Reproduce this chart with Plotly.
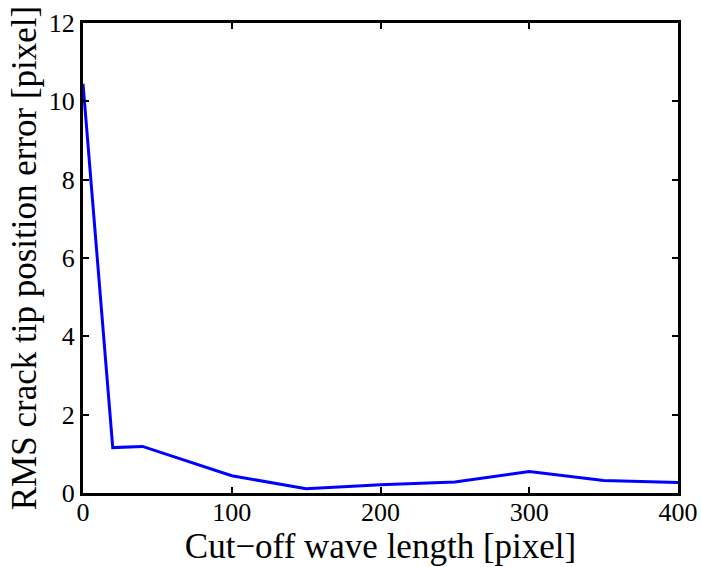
import plotly.graph_objects as go

cutoff = [0, 20, 40, 100, 150, 200, 250, 300, 350, 400]
rms_error = [10.45, 1.16, 1.19, 0.44, 0.11, 0.21, 0.28, 0.55, 0.32, 0.27]
x_ticks = [0, 100, 200, 300, 400]
y_ticks = [0, 2, 4, 6, 8, 10, 12]

fig = go.Figure()
fig.add_trace(go.Scatter(x=cutoff, y=rms_error, mode="lines",
                         line=dict(color="#0000ff", width=3), showlegend=False))

font = "'Times New Roman', 'Liberation Serif', 'DejaVu Serif', serif"
axis_common = dict(showgrid=False, zeroline=False, showline=True, linecolor="black",
                   linewidth=3, mirror="ticks", ticks="inside", ticklen=6, tickwidth=2,
                   tickcolor="black", automargin=False,
                   tickfont=dict(family=font, size=26, color="black"))

fig.update_layout(
    width=701, height=567,
    margin=dict(l=83, r=23, t=23, b=74),
    paper_bgcolor="white", plot_bgcolor="white",
    font=dict(family=font),
    xaxis=dict(range=[0, 400], tickvals=x_ticks, ticklabelstandoff=-6,
               title=dict(text="Cut\u2212off wave length [pixel]", standoff=0,
                          font=dict(family=font, size=35, color="black")),
               **axis_common),
    yaxis=dict(range=[0, 12], tickvals=y_ticks,
               title=dict(text="RMS crack tip position error [pixel]", standoff=2,
                          font=dict(family=font, size=35, color="black")),
               **axis_common),
)
fig.write_html("out.html", config={"displayModeBar": False},
               post_script="document.body.style.margin='0';document.body.style.overflow='hidden';")
